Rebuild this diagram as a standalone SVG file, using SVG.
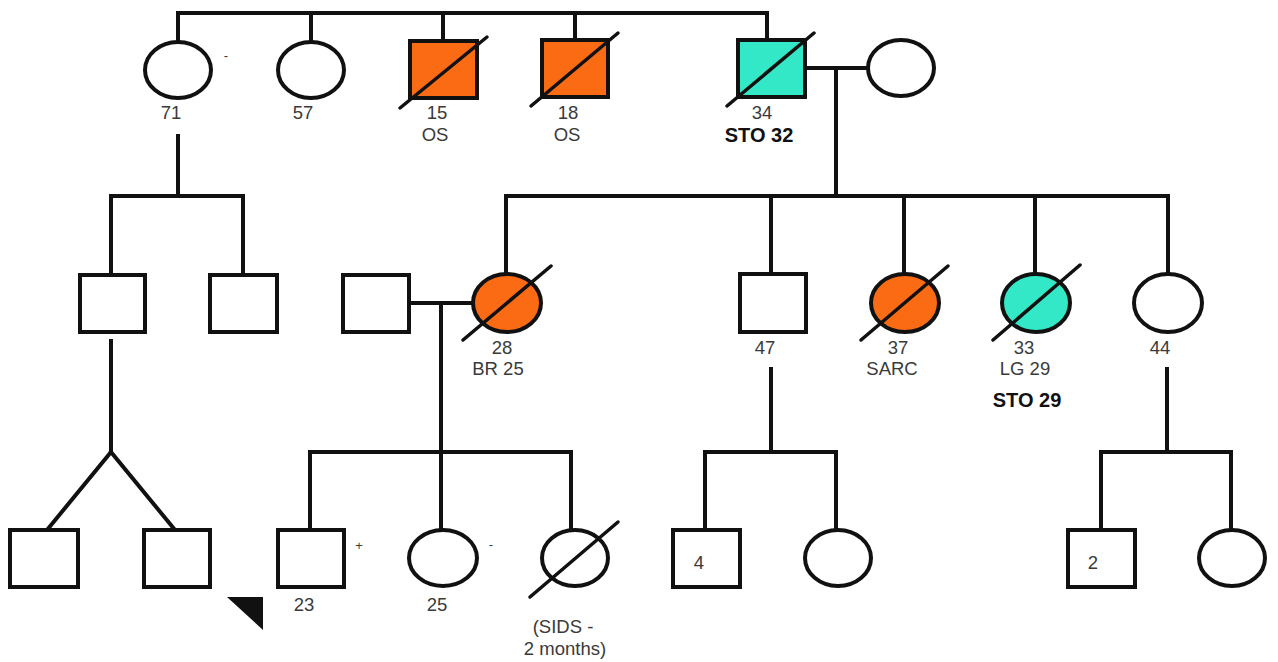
<svg xmlns="http://www.w3.org/2000/svg" width="1278" height="662" viewBox="0 0 1278 662">
<style>
.ln{fill:none;stroke:#111;stroke-width:4;stroke-linecap:square}
.nd{fill:#fff;stroke:#111;stroke-width:4}
.or{fill:#FA6B14}
.tl{fill:#33E8C6}
.dg{stroke:#111;stroke-width:3.5;stroke-linecap:round}
.t{font-family:"Liberation Sans",Arial,sans-serif;font-size:18.5px;fill:#3a3a3a;text-anchor:middle}
.b{font-weight:bold;fill:#111;font-size:20px}
.m{font-size:13px}
</style>
<rect width="1278" height="662" fill="#fff"/>
<g id="connectors">
<path class="ln" d="M178,41 V13 H767 V40 M311,13 V42 M443,13 V41 M575,13 V40"/>
<path class="ln" d="M805,68 H868 M836,68 V196 M506,273 V196 H1168 V274 M771,196 V274 M904,196 V274 M1035,196 V274"/>
<path class="ln" d="M178,136 V196 M111,275 V196 H243 V275"/>
<path class="ln" d="M409,303 H473 M441,303 V530 M310,530 V452 H571 V530"/>
<path class="ln" d="M111,341 V452 L47,530 M111,452 L175,530"/>
<path class="ln" d="M771,369 V452 M705,530 V452 H836 V530"/>
<path class="ln" d="M1167,369 V452 M1101,530 V452 H1231 V530"/>
</g>
<g id="n71"><ellipse class="nd" cx="178" cy="70" rx="33" ry="28"/><text class="t" x="171" y="119">71</text><text class="t m" x="226" y="60">-</text></g>
<g id="n57"><ellipse class="nd" cx="311" cy="70" rx="33" ry="28"/><text class="t" x="303" y="119">57</text></g>
<g id="n15"><rect class="nd or" x="410" y="41" width="67" height="57"/><line class="dg" x1="400" y1="108" x2="487" y2="37"/><text class="t" x="437" y="119">15</text><text class="t" x="435" y="141">OS</text></g>
<g id="n18"><rect class="nd or" x="542" y="40" width="66" height="57"/><line class="dg" x1="531" y1="106" x2="618" y2="33"/><text class="t" x="568" y="119">18</text><text class="t" x="567" y="141">OS</text></g>
<g id="n34"><rect class="nd tl" x="738" y="40" width="67" height="57"/><line class="dg" x1="727" y1="106" x2="814" y2="33"/><text class="t" x="762" y="119">34</text><text class="t b" x="759" y="142">STO 32</text></g>
<g id="n34w"><ellipse class="nd" cx="901" cy="68" rx="33" ry="28"/></g>
<g id="g2a"><rect class="nd" x="80" y="275" width="65" height="57"/></g>
<g id="g2b"><rect class="nd" x="210" y="275" width="67" height="57"/></g>
<g id="g2h"><rect class="nd" x="343" y="275" width="66" height="57"/></g>
<g id="n28"><ellipse class="nd or" cx="507" cy="303" rx="34" ry="29"/><line class="dg" x1="463" y1="340" x2="551" y2="266"/><text class="t" x="502" y="354">28</text><text class="t" x="498" y="375">BR 25</text></g>
<g id="n47"><rect class="nd" x="740" y="274" width="66" height="58"/><text class="t" x="765" y="354">47</text></g>
<g id="n37"><ellipse class="nd or" cx="905" cy="303" rx="34" ry="29"/><line class="dg" x1="861" y1="340" x2="948" y2="266"/><text class="t" x="898" y="354">37</text><text class="t" x="892" y="375">SARC</text></g>
<g id="n33"><ellipse class="nd tl" cx="1036" cy="303" rx="34" ry="29"/><line class="dg" x1="993" y1="340" x2="1080" y2="265"/><text class="t" x="1024" y="354">33</text><text class="t" x="1025" y="375">LG 29</text><text class="t b" x="1027" y="407">STO 29</text></g>
<g id="n44"><ellipse class="nd" cx="1168" cy="303" rx="34" ry="29"/><text class="t" x="1160" y="354">44</text></g>
<g id="t1"><rect class="nd" x="10" y="530" width="68" height="57"/></g>
<g id="t2"><rect class="nd" x="144" y="530" width="66" height="57"/></g>
<g id="proband"><polygon points="227,597 263,597 263,630" fill="#111"/></g>
<g id="n23"><rect class="nd" x="278" y="530" width="66" height="57"/><text class="t" x="304" y="611">23</text><text class="t m" x="359" y="550">+</text></g>
<g id="n25"><ellipse class="nd" cx="443" cy="558" rx="34" ry="28"/><text class="t" x="437" y="611">25</text><text class="t m" x="491" y="549">-</text></g>
<g id="sids"><ellipse class="nd" cx="575" cy="558" rx="33" ry="28"/><line class="dg" x1="530" y1="597" x2="618" y2="522"/><text class="t" x="563" y="633">(SIDS -</text><text class="t" x="565" y="655">2 months)</text></g>
<g id="n4"><rect class="nd" x="673" y="530" width="67" height="57"/><text class="t" x="699" y="569">4</text></g>
<g id="n4s"><ellipse class="nd" cx="838" cy="558" rx="33" ry="28"/></g>
<g id="n2"><rect class="nd" x="1068" y="530" width="67" height="57"/><text class="t" x="1093" y="569">2</text></g>
<g id="n2s"><ellipse class="nd" cx="1232" cy="558" rx="33" ry="28"/></g>
</svg>
